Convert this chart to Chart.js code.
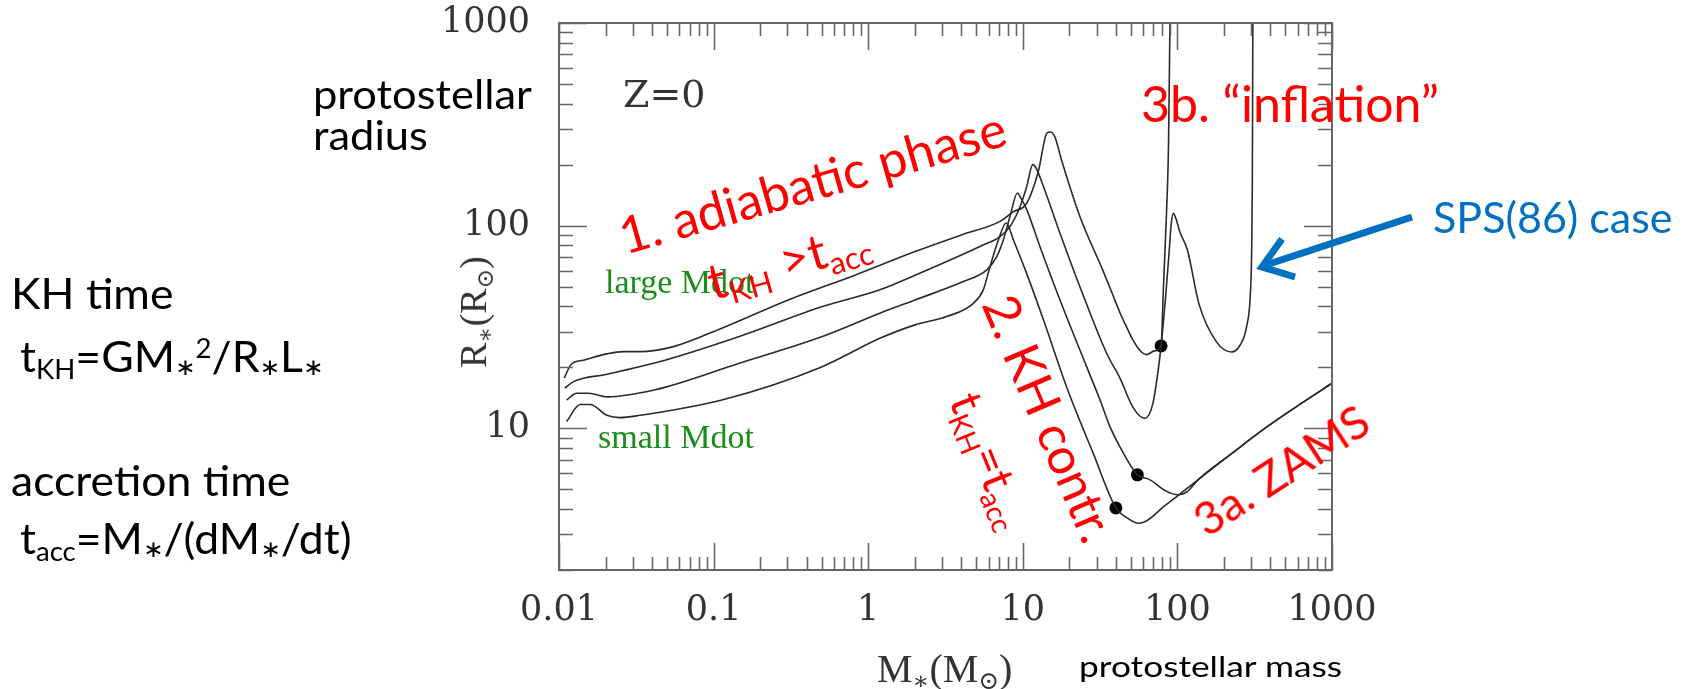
<!DOCTYPE html>
<html>
<head>
<meta charset="utf-8">
<script src="https://cdn.jsdelivr.net/npm/chart.js@4.4.1/dist/chart.umd.min.js"></script>
<style>
  body { margin: 0; background: #fff; }
  #wrap { position: relative; width: 1683px; height: 689px; overflow: hidden; }
  #wrap canvas { position: absolute; left: 0; top: 0; }
  .t { position: absolute; white-space: nowrap; line-height: 1; }
  .sans { font-family: Lato, 'Open Sans', sans-serif; color: #000; }
  .wide { transform: scaleX(1.06); transform-origin: left center; }
  .serif { font-family: 'Liberation Serif', 'DejaVu Serif', serif; color: #333; }
  .red { color: #ff0000; }
  .green { color: #1a8c1a; }
  .sb { font-size: .62em; position: relative; top: .28em; }
  .sp { font-size: .62em; position: relative; top: -.55em; }
  .as { font-family: 'DejaVu Sans', sans-serif; font-size: .55em; position: relative; top: .12em; }
  .rot { transform: translate(-50%, -50%) rotate(var(--a)); }
</style>
</head>
<body>
<div id="wrap">
  <canvas id="myChart" width="1683" height="689"></canvas>

  <!-- left side notes -->
  <div class="t sans wide" style="left:313px; top:73px; font-size:41px;">protostellar</div>
  <div class="t sans wide" style="left:313px; top:114px; font-size:41px;">radius</div>
  <div class="t sans wide" style="left:11px; top:272px; font-size:42px;">KH time</div>
  <div class="t sans wide" style="left:20px; top:335px; font-size:42px;">t<span class="sb">KH</span>=GM<span class="as">∗</span><span class="sp">2</span>/R<span class="as">∗</span>L<span class="as">∗</span></div>
  <div class="t sans wide" style="left:11px; top:459px; font-size:42px;">accretion time</div>
  <div class="t sans wide" style="left:20px; top:517px; font-size:42px;">t<span class="sb">acc</span>=M<span class="as">∗</span>/(dM<span class="as">∗</span>/dt)</div>

  <!-- axis titles -->
  <div class="t serif rot" style="left:473px; top:312px; font-size:38px; --a:-90deg;">R<span class="sb">∗</span>(R<span class="sb">⊙</span>)</div>
  <div class="t serif" style="left:877px; top:649px; font-size:40px;">M<span class="sb">∗</span>(M<span class="sb">⊙</span>)</div>
  <div class="t sans" style="left:1079px; top:652px; font-size:28px; transform:scaleX(1.26); transform-origin:left center;">protostellar mass</div>

  <!-- in-plot notes -->
  <div class="t" style="left:623px; top:75px; font-size:38px; font-family:'DejaVu Serif', serif; color:#333;">Z=0</div>
  <div class="t serif green" style="left:605px; top:265px; font-size:34px; color:#1a8c1a;">large Mdot</div>
  <div class="t serif green" style="left:598px; top:420px; font-size:34px; color:#1a8c1a;">small Mdot</div>

  <div class="t sans red rot" style="left:812px; top:181px; font-size:51px; --a:-16deg;">1. adiabatic phase</div>
  <div class="t sans red rot" style="left:788px; top:259px; font-size:50px; --a:-16deg;">t<span class="sb">KH</span> &gt;t<span class="sb">acc</span></div>
  <div class="t sans red rot" style="left:1050px; top:418px; font-size:50px; --a:67deg;">2. KH contr.</div>
  <div class="t sans red rot" style="left:991px; top:460px; font-size:46px; --a:68deg;">t<span class="sb">KH</span>=t<span class="sb">acc</span></div>
  <div class="t sans red rot" style="left:1281px; top:470px; font-size:46px; --a:-33deg;">3a. ZAMS</div>
  <div class="t sans red" style="left:1141px; top:78px; font-size:50px;">3b. “inflation”</div>
  <div class="t sans" style="left:1433px; top:195px; font-size:43px; color:#0070c0;">SPS(86) case</div>

  <svg width="1683" height="689" style="position:absolute; left:0; top:0;">
    <line x1="1412" y1="217" x2="1266" y2="265" stroke="#0070c0" stroke-width="7"/>
    <polyline points="1282,239 1262,267 1295,277" fill="none" stroke="#0070c0" stroke-width="7" stroke-linejoin="miter"/>
  </svg>
</div>

<script>
// axis ticks
const xTicks = [0.01, 0.1, 1, 10, 100, 1000];
const xTickLabels = ['0.01', '0.1', '1', '10', '100', '1000'];
const yTicks = [10, 100, 1000];
const yTickLabels = ['10', '100', '1000'];

// protostellar radius (Rsun) vs mass (Msun), four accretion rates, largest first
const massA = [0.0108, 0.012, 0.0144, 0.0204, 0.026, 0.0334, 0.055, 0.113, 0.304, 0.82, 2.01, 4.0, 7.13, 8.65, 10.6, 12.6, 14.3, 15.0, 16.1, 17.8, 23.4, 33, 38, 42.5, 47, 52, 57.3, 63.2, 71, 78.4, 81.4, 85, 87.6, 89.5, 90.5];
const radiusA = [17.7, 20.7, 21.7, 23.3, 23.9, 23.9, 25.3, 31.2, 43, 57, 74.5, 90, 105, 117, 129, 185, 286, 290, 275, 211, 111, 60, 46, 37.2, 31.5, 27, 24.2, 23.1, 24.1, 25.5, 52, 115, 250, 1000, 2000];

const massB = [0.0109, 0.0124, 0.0204, 0.0485, 0.145, 0.5, 1.19, 2.01, 5.28, 7.13, 8.26, 9.6, 10.6, 11.6, 12.2, 13.6, 17.4, 23.4, 34.9, 42.5, 51.6, 61.5, 69.3, 75.1, 78.4, 84, 88.5, 91, 94, 98, 104, 116, 138, 179, 224, 254, 280, 296, 302, 305, 306.5, 307.5, 308.5];
const radiusB = [15.8, 17.0, 18.5, 21.7, 28.3, 39.8, 48.3, 57, 79, 88.4, 99, 124, 156, 200, 192, 156, 91.8, 50, 23.4, 17.7, 12.7, 11.2, 13.2, 19.3, 25.5, 45, 75, 100, 115, 108, 92.5, 76, 41, 26.7, 23.8, 25.7, 31.6, 45, 72, 150, 400, 1000, 2000];

const massC = [0.0112, 0.013, 0.0155, 0.0204, 0.0418, 0.145, 0.5, 1.19, 2.01, 4.12, 5.85, 6.78, 7.48, 8.26, 9.23, 9.6, 10.6, 12.9, 17.4, 25.9, 31.6, 36.6, 42.5, 55.1, 65.8, 84.6, 101, 115, 137, 224, 375, 626, 1000];
const radiusC = [13.8, 14.9, 14.9, 14.3, 15.5, 20.9, 28.3, 37, 43, 53, 60.5, 70.3, 85, 111, 145, 139, 120, 79, 43, 20.1, 13.8, 10.2, 8.1, 5.9, 5.6, 4.9, 4.7, 4.85, 5.6, 7.5, 10.1, 13.2, 16.7];

const massD = [0.0112, 0.0137, 0.0159, 0.0204, 0.0248, 0.0334, 0.113, 0.5, 1.19, 2.01, 3.22, 4.79, 5.55, 6.14, 6.95, 7.8, 8.7, 10.6, 13.6, 19.2, 28.6, 40, 47.1, 56.4, 84.6, 137, 224, 375, 626, 1000];
const radiusD = [10.8, 13.1, 13.1, 11.6, 11.3, 11.6, 13.8, 20.1, 27.8, 32.4, 35.6, 41.4, 48.2, 62.8, 85, 103, 85, 58, 34.3, 16, 7.5, 4.05, 3.62, 3.4, 4.2, 5.6, 7.5, 10.1, 13.2, 16.7];

// black dots
const dotMass = [40, 55.1, 78.4];
const dotRadius = [4.05, 5.9, 25.5];

const pts = (m, r) => m.map((v, i) => ({x: v, y: r[i]}));

function curve(m, r) {
    return {
        data: pts(m, r),
        showLine: true,
        borderColor: '#2a2a2a',
        borderWidth: 1.6,
        pointRadius: 0,
        cubicInterpolationMode: 'monotone'
    };
}

//frame and inward ticks on all four sides
const frameTicks = {
    id: 'frameTicks',
    afterDraw(chart) {
        const ctx = chart.ctx;
        const a = chart.chartArea;
        const xs = chart.scales.x, ys = chart.scales.y;
        ctx.save();
        ctx.strokeStyle = '#666';
        ctx.lineWidth = 2;
        ctx.strokeRect(a.left, a.top, a.right - a.left, a.bottom - a.top);
        ctx.lineWidth = 1.6;
        ctx.beginPath();
        for (let d = -2; d <= 3; d++) {
            for (let k = 1; k < 10; k++) {
                const v = k * Math.pow(10, d);
                if (v > 1000.001) break;
                const len = k === 1 ? 27 : 13;
                const px = Math.round(xs.getPixelForValue(v)) + 0.5;
                ctx.moveTo(px, a.bottom); ctx.lineTo(px, a.bottom - len);
                ctx.moveTo(px, a.top); ctx.lineTo(px, a.top + len);
            }
        }
        for (let d = 0; d <= 3; d++) {
            for (let k = 1; k < 10; k++) {
                const v = k * Math.pow(10, d);
                if (v < 2 || v > 1000.001) continue;
                const len = k === 1 ? 28 : 14;
                const py = Math.round(ys.getPixelForValue(v)) + 0.5;
                ctx.moveTo(a.left, py); ctx.lineTo(a.left + len, py);
                ctx.moveTo(a.right, py); ctx.lineTo(a.right - len, py);
            }
        }
        ctx.stroke();
        ctx.restore();
    }
};

const tickFont = {family: "'DejaVu Serif', serif", size: 35};

new Chart("myChart", {
    type: "scatter",
    data: {
        datasets: [
            curve(massA, radiusA),
            curve(massB, radiusB),
            curve(massC, radiusC),
            curve(massD, radiusD),
            {
                data: pts(dotMass, dotRadius),
                pointRadius: 6.5,
                pointBackgroundColor: '#000',
                pointBorderWidth: 0
            }
        ]
    },
    options: {
        responsive: false,
        devicePixelRatio: 1,
        animation: false,
        events: [],
        layout: {padding: {left: 0, right: 351, top: 23, bottom: 0}},
        plugins: {legend: {display: false}, tooltip: {enabled: false}},
        scales: {
            x: {
                type: 'logarithmic',
                min: 0.01,
                max: 1000,
                grid: {display: false, drawTicks: false},
                border: {display: false},
                afterBuildTicks: s => { s.ticks = xTicks.map(v => ({value: v})); },
                afterFit: s => { s.height = 119; s.paddingLeft = 0; s.paddingRight = 0; },
                ticks: {
                    autoSkip: false,
                    maxRotation: 0,
                    padding: 20,
                    color: '#333',
                    font: tickFont,
                    callback: v => xTickLabels[xTicks.indexOf(v)]
                }
            },
            y: {
                type: 'logarithmic',
                min: 2,
                max: 1000,
                grid: {display: false, drawTicks: false},
                border: {display: false},
                afterBuildTicks: s => { s.ticks = yTicks.map(v => ({value: v})); },
                afterFit: s => { s.width = 559; s.paddingTop = 0; s.paddingBottom = 0; },
                ticks: {
                    autoSkip: false,
                    padding: 29,
                    color: '#333',
                    font: tickFont,
                    callback: v => yTickLabels[yTicks.indexOf(v)]
                }
            }
        }
    },
    plugins: [frameTicks]
});
</script>
</body>
</html>
